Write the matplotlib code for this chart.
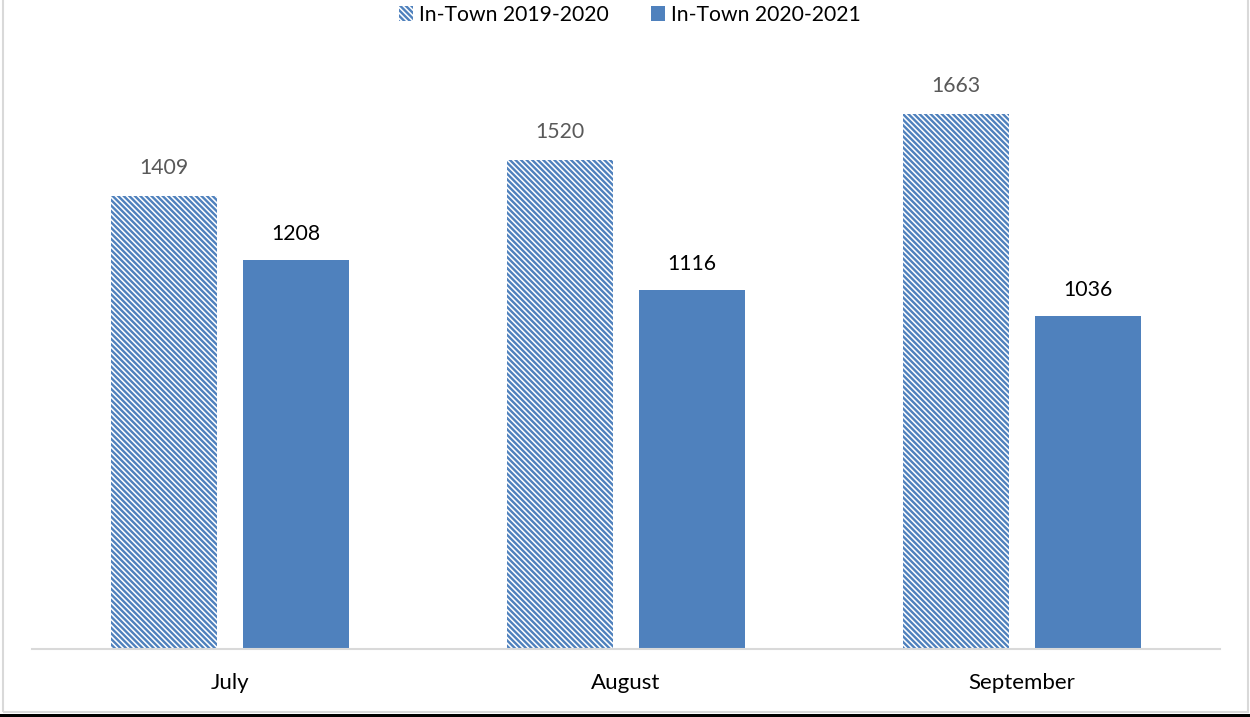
import matplotlib
matplotlib.use("Agg")
import matplotlib.pyplot as plt
from matplotlib.patches import Rectangle, Patch
import numpy as np

categories = ["July", "August", "September"]
series_2019 = [1409, 1520, 1663]
series_2020 = [1208, 1116, 1036]
legend_labels = ["In-Town 2019-2020", "In-Town 2020-2021"]

BLUE = "#4F81BD"
plt.rcParams["font.family"] = ["Lato", "DejaVu Sans"]
plt.rcParams["hatch.linewidth"] = 1.7
HATCH = "\\" * 6

fig = plt.figure(figsize=(12.5, 7.17), dpi=100)
ax = fig.add_axes([0.0256, 0.0948, 0.9504, 0.8075])

x = np.arange(len(categories))
w = 0.268
off = 0.167
b1 = ax.bar(x - off, series_2019, w, facecolor="white", edgecolor=BLUE,
            hatch=HATCH, linewidth=0, label=legend_labels[0])
b2 = ax.bar(x + off, series_2020, w, color=BLUE, linewidth=0,
            label=legend_labels[1])

for rect, v in zip(b1, series_2019):
    ax.annotate(str(v), (rect.get_x() + rect.get_width() / 2, v),
                xytext=(0, 18), textcoords="offset pixels", ha="center",
                va="bottom", fontsize=15.3, color="#595959")
for rect, v in zip(b2, series_2020):
    ax.annotate(str(v), (rect.get_x() + rect.get_width() / 2, v),
                xytext=(0, 16), textcoords="offset pixels", ha="center",
                va="bottom", fontsize=15.3, color="#000000")

ax.set_xlim(-0.5, 2.5)
ax.set_ylim(0, 1800)
ax.set_xticks(x)
ax.set_xticklabels(categories, fontsize=16, color="#000000")
ax.tick_params(axis="x", length=0, pad=17)
ax.set_yticks([])
for s in ["top", "right", "left"]:
    ax.spines[s].set_visible(False)
ax.spines["bottom"].set_color("#D9D9D9")
ax.spines["bottom"].set_linewidth(1.5)

handles = [Patch(facecolor="white", edgecolor=BLUE, hatch=HATCH, linewidth=0),
           Patch(facecolor=BLUE, linewidth=0)]
fig.legend(handles, legend_labels, loc="center", bbox_to_anchor=(0.5036, 0.979),
           ncol=2, frameon=False, fontsize=15.2, handlelength=0.67, handleheight=0.67,
           handletextpad=0.28, columnspacing=2.0)

# outer chart border and bottom black line
fig.patches.append(Rectangle((0.002, 0.007), 0.996, 1.1, transform=fig.transFigure,
                             facecolor="none", edgecolor="#D9D9D9", linewidth=1.5))
fig.patches.append(Rectangle((0, 0), 1, 0.004, transform=fig.transFigure,
                             facecolor="black", edgecolor="none"))

fig.savefig("out.png", dpi=100)
